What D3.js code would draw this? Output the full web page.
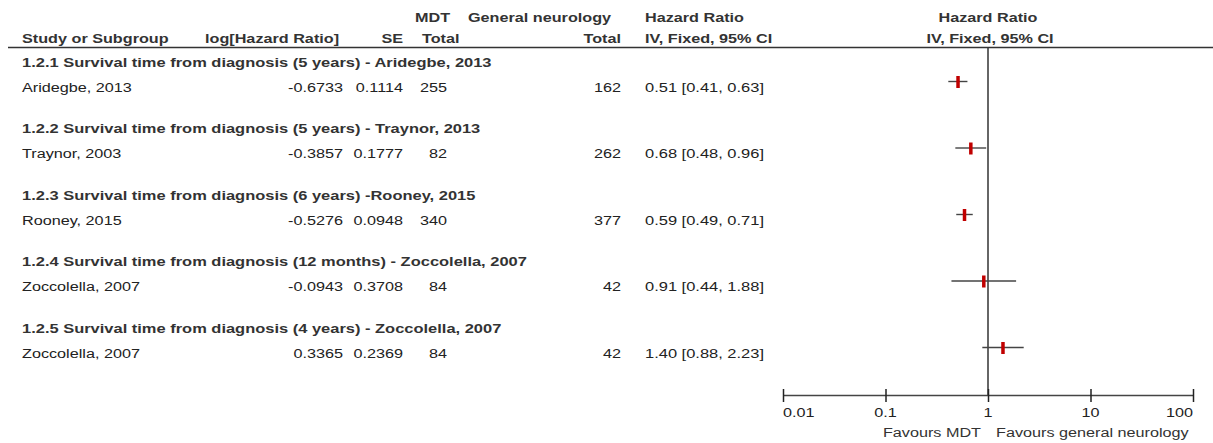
<!DOCTYPE html>
<html>
<head>
<meta charset="utf-8">
<script src="https://cdn.jsdelivr.net/npm/d3@7"></script>
<style>
  html, body { margin: 0; padding: 0; background: #fff; }
  svg { display: block; }
  text { font-family: Arial, "Liberation Sans", sans-serif; fill: #222; }
</style>
</head>
<body>
<svg id="chart" width="1213" height="443"></svg>
<script>
// Subgroup headings
const groups = [
  "1.2.1 Survival time from diagnosis (5 years) - Aridegbe, 2013",
  "1.2.2 Survival time from diagnosis (5 years) - Traynor, 2013",
  "1.2.3 Survival time from diagnosis (6 years) -Rooney, 2015",
  "1.2.4 Survival time from diagnosis (12 months) - Zoccolella, 2007",
  "1.2.5 Survival time from diagnosis (4 years) - Zoccolella, 2007"
];
// One study per subgroup
const studies = ["Aridegbe, 2013", "Traynor, 2003", "Rooney, 2015", "Zoccolella, 2007", "Zoccolella, 2007"];
const logHR = [-0.6733, -0.3857, -0.5276, -0.0943, 0.3365];
const seVals = [0.1114, 0.1777, 0.0948, 0.3708, 0.2369];
const mdtTotal = [255, 82, 340, 84, 84];
const neuroTotal = [162, 262, 377, 42, 42];
const hazardRatio = [0.51, 0.68, 0.59, 0.91, 1.40];
const ciLow = [0.41, 0.48, 0.49, 0.44, 0.88];
const ciHigh = [0.63, 0.96, 0.71, 1.88, 2.23];
const tickValues = [0.01, 0.1, 1, 10, 100];

const svg = d3.select("#chart");
const FS = 13.5;      // font size
const SX = 1.2;       // horizontal text stretch

function label(x, y, str, opts = {}) {
  return svg.append("text")
    .attr("transform", `translate(${x},${y}) scale(${opts.sx || SX},1)`)
    .attr("text-anchor", opts.anchor || "start")
    .attr("dominant-baseline", "central")
    .attr("font-size", FS)
    .attr("font-weight", opts.bold ? "bold" : "normal")
    .style("fill", opts.fill || "#222")
    .text(str);
}

// Scales
const x = d3.scaleLog().domain([0.01, 100]).range([783, 1193]);
const rowY = d3.scaleLinear().domain([0, 4]).range([87, 353]);
const headerColor = "#333";

// Column headings
label(415, 17, "MDT", { bold: true, fill: headerColor });
label(468, 17, "General neurology", { bold: true, fill: headerColor });
label(645, 17, "Hazard Ratio", { bold: true, fill: headerColor });
label(x(1), 17, "Hazard Ratio", { bold: true, anchor: "middle", fill: headerColor });

label(22, 38, "Study or Subgroup", { bold: true, fill: headerColor });
label(205, 38, "log[Hazard Ratio]", { bold: true, fill: headerColor });
label(403, 38, "SE", { bold: true, anchor: "end", fill: headerColor });
label(422, 38, "Total", { bold: true, fill: headerColor });
label(621, 38, "Total", { bold: true, anchor: "end", fill: headerColor });
label(645, 38, "IV, Fixed, 95% CI", { bold: true, fill: headerColor });
label(x(1) + 2, 38, "IV, Fixed, 95% CI", { bold: true, anchor: "middle", fill: headerColor });

// Rule under the headings
svg.append("line")
  .attr("x1", 8).attr("x2", 1213).attr("y1", 47.5).attr("y2", 47.5)
  .attr("stroke", "#333").attr("stroke-width", 1.5);

const axisY = 395;

// Line of no effect
svg.append("line")
  .attr("x1", x(1)).attr("x2", x(1)).attr("y1", 47).attr("y2", axisY)
  .attr("stroke", "#333").attr("stroke-width", 1.5);

// Rows
groups.forEach((g, i) => {
  const y = rowY(i);
  label(22, y - 25, g, { bold: true, fill: headerColor, sx: 1.22 });
  label(22, y, studies[i]);
  label(343, y, logHR[i].toFixed(4), { anchor: "end" });
  label(403, y, seVals[i].toFixed(4), { anchor: "end" });
  label(447, y, String(mdtTotal[i]), { anchor: "end" });
  label(621, y, String(neuroTotal[i]), { anchor: "end" });
  label(645, y, `${hazardRatio[i].toFixed(2)} [${ciLow[i].toFixed(2)}, ${ciHigh[i].toFixed(2)}]`, { sx: 1.22 });
});

// Confidence interval whiskers and point estimates
const marks = svg.append("g");
marks.selectAll("line.ci")
  .data(d3.range(studies.length))
  .join("line")
  .attr("class", "ci")
  .attr("x1", i => x(ciLow[i]))
  .attr("x2", i => x(ciHigh[i]))
  .attr("y1", i => rowY(i) - 5.5)
  .attr("y2", i => rowY(i) - 5.5)
  .attr("stroke", "#444").attr("stroke-width", 1.4);

marks.selectAll("rect.est")
  .data(d3.range(studies.length))
  .join("rect")
  .attr("class", "est")
  .attr("x", i => x(hazardRatio[i]) - 1.75)
  .attr("y", i => rowY(i) - 11)
  .attr("width", 3.5)
  .attr("height", 12)
  .attr("fill", "#c00000");

// Log axis
const axis = d3.axisBottom(x)
  .tickValues(tickValues)
  .tickFormat(d => String(d))
  .tickSizeOuter(0)
  .tickSizeInner(7)
  .tickPadding(4);

const gAxis = svg.append("g")
  .attr("transform", `translate(0,${axisY})`)
  .call(axis);
gAxis.select(".domain").attr("stroke", "#444").attr("stroke-width", 1.5);
gAxis.selectAll(".tick line").attr("y1", -6).attr("y2", 7)
  .attr("stroke", "#222").attr("stroke-width", 1.5);
gAxis.selectAll(".tick text").remove();
// End labels sit inside the axis span
tickValues.forEach((v, i) => {
  const anchor = i === 0 ? "start" : (i === tickValues.length - 1 ? "end" : "middle");
  label(x(v), 412, String(v), { anchor });
});

// Direction labels
label(981, 432, "Favours MDT", { anchor: "end", fill: "#333" });
label(996, 432, "Favours general neurology", { fill: "#333" });
</script>
</body>
</html>
